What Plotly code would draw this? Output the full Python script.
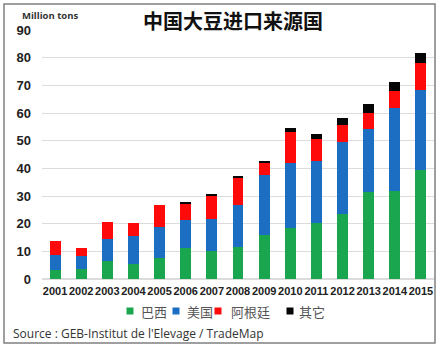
import plotly.graph_objects as go

years = ["2001", "2002", "2003", "2004", "2005", "2006", "2007", "2008",
         "2009", "2010", "2011", "2012", "2013", "2014", "2015"]
brazil = [3.1, 3.6, 6.4, 5.4, 7.7, 11.3, 10.2, 11.4, 15.9, 18.3, 20.4, 23.5, 31.6, 31.8, 39.4]
usa = [5.6, 4.6, 8.1, 10.3, 11.1, 9.9, 11.6, 15.5, 21.7, 23.7, 22.3, 26.1, 22.5, 30.1, 28.9]
argentina = [5.2, 3.0, 6.2, 4.5, 7.9, 6.1, 8.4, 9.7, 4.2, 11.3, 7.8, 6.1, 6.0, 6.0, 9.7]
other = [0.0, 0.0, 0.0, 0.0, 0.0, 0.6, 0.5, 0.6, 0.8, 1.4, 1.9, 2.6, 3.3, 3.4, 3.8]
series_names = ["巴西", "美国", "阿根廷", "其它"]
series_colors = ["#1aa64e", "#1b6ec2", "#ff0a0a", "#050505"]
y_ticks = [0, 10, 20, 30, 40, 50, 60, 70, 80, 90]

W, H = 444, 350
L, R, T, B = 42, 10, 30, 71
pw, ph = W - L - R, H - T - B


def px(x):
    return (x - L) / pw


def py(y):
    return (H - B - y) / ph


fig = go.Figure()
for name, vals, col in zip(series_names, [brazil, usa, argentina, other], series_colors):
    fig.add_trace(go.Bar(x=years, y=vals, name=name, marker=dict(color=col, line=dict(width=0))))

# legend drawn as small squares + labels (compact like the original)
legend_marker_x = [130, 176, 218, 290]
legend_text_x = [139, 185, 229, 297]
legend_y = 311
shapes = [dict(type="rect", xref="paper", yref="paper", x0=px(4), x1=px(435), y0=py(343), y1=py(4),
               line=dict(color="#808080", width=1.5), fillcolor="rgba(0,0,0,0)", layer="below")]
annotations = [
    dict(text="<b>Million tons</b>", xref="paper", yref="paper", x=px(20), y=py(16),
         xanchor="left", yanchor="middle", showarrow=False,
         font=dict(family="Open Sans", size=9.5, color="#333333")),
    dict(text="Source : GEB-Institut de l'Elevage / TradeMap", xref="paper", yref="paper",
         x=px(11), y=py(333), xanchor="left", yanchor="middle", showarrow=False,
         font=dict(family="Open Sans", size=12, color="#333333")),
]
for name, col, mx, tx in zip(series_names, series_colors, legend_marker_x, legend_text_x):
    shapes.append(dict(type="rect", xref="paper", yref="paper",
                       x0=px(mx - 3.5), x1=px(mx + 3.5), y0=py(legend_y + 3.5), y1=py(legend_y - 3.5),
                       line=dict(width=0), fillcolor=col))
    annotations.append(dict(text=name, xref="paper", yref="paper", x=px(tx), y=py(legend_y),
                            xanchor="left", yanchor="middle", showarrow=False,
                            font=dict(family="Noto Sans CJK SC", size=13, color="#555555")))

fig.update_layout(
    width=W, height=H,
    margin=dict(l=L, r=R, t=T, b=B),
    barmode="stack",
    bargap=0.58,
    plot_bgcolor="white",
    paper_bgcolor="white",
    showlegend=False,
    title=dict(text="<b>中国大豆进口来源国</b>", x=233 / W, xanchor="center",
               y=1 - 22 / H, yanchor="middle", yref="container",
               font=dict(family="Noto Sans CJK SC", size=20, color="#111111")),
    xaxis=dict(type="category", range=[-0.5, 14.5], showgrid=False, showline=False,
               ticks="", tickfont=dict(family="Liberation Sans", size=11, color="#222222", weight="bold"),
               tickangle=0, ticklabelstandoff=4),
    yaxis=dict(range=[0, 90], tickvals=y_ticks, showgrid=True, gridcolor="#dcdcdc", gridwidth=1,
               zeroline=True, zerolinecolor="#dcdcdc", showline=False, ticks="",
               tickfont=dict(family="Liberation Sans", size=13, color="#222222", weight="bold"),
               ticklabelstandoff=10),
    annotations=annotations,
    shapes=shapes,
)

fig.write_html("out.html")
